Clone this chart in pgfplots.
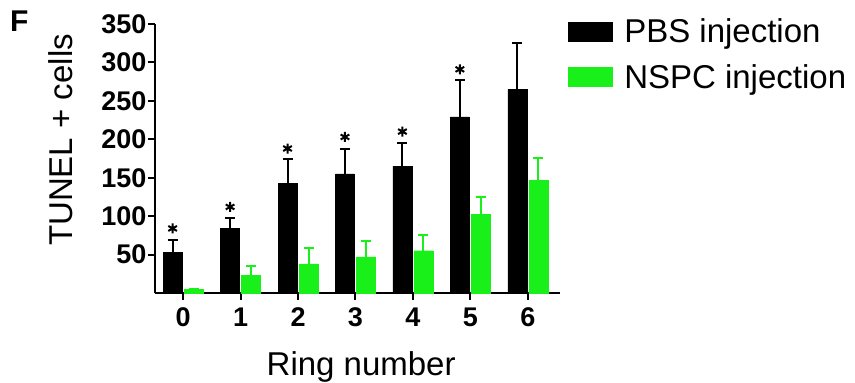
\documentclass[border=0pt]{standalone}
\usepackage{fontspec}
\setmainfont{Liberation Sans}
\usepackage{pgfplots}
\pgfplotsset{compat=1.18}
\definecolor{nspc}{RGB}{25,240,25}
\begin{document}
\begin{tikzpicture}
\path[use as bounding box] (0,0) rectangle (855pt,383pt);
\begin{axis}[
  at={(155pt,90pt)}, anchor=south west,
  scale only axis, width=405pt, height=269pt,
  xmin=-0.49, xmax=6.56, ymin=0, ymax=350,
  axis lines*=left,
  axis line style={line width=2.5pt},
  tick align=outside,
  major tick length=7pt,
  tick style={line width=2pt, black},
  xtick={0,1,2,3,4,5,6},
  ytick={50,100,150,200,250,300,350},
  /pgf/number format/assume math mode=true,
  ticklabel style={font=\fontsize{27}{27}\selectfont\bfseries},
  yticklabel style={xshift=2pt},
  xticklabel style={yshift=-4pt},
  xlabel={Ring number},
  ylabel={TUNEL + cells},
  label style={font=\fontsize{33}{33}\selectfont},
  xlabel style={at={(axis description cs:0.509,-0.275)}, anchor=center},
  ylabel style={at={(axis description cs:-0.232,0.569)}, anchor=center},
  legend style={at={(axis description cs:1.012,1.035)}, anchor=north west,
    draw=none, fill=none, font=\fontsize{33}{33}\selectfont,
    row sep=16pt, legend cell align=left},
  legend image code/.code={\fill[#1] (0pt,-9.5pt) rectangle (44pt,9.5pt); \path[draw=none,fill=none] (0pt,0pt) rectangle (54pt,0.1pt);},
  clip=false,
]
\addplot[ybar, bar width=19pt, bar shift=0pt, fill=black, draw=black,
  error bars/.cd, y dir=plus, y explicit, error mark=|,
  error bar style={line width=2pt, black},
  error mark options={line width=2pt, mark size=5pt, black}]
  coordinates {
  (-0.183,53) +- (0,16)
  (0.817,84.5) +- (0,12.5)
  (1.817,143) +- (0,31)
  (2.817,155) +- (0,32.5)
  (3.817,165) +- (0,30)
  (4.817,229) +- (0,48)
  (5.817,265) +- (0,60)
  };
\addlegendentry{PBS injection}
\addplot[ybar, bar width=19pt, bar shift=0pt, fill=nspc, draw=nspc,
  error bars/.cd, y dir=plus, y explicit, error mark=|,
  error bar style={line width=2pt, nspc},
  error mark options={line width=2pt, mark size=5pt, nspc}]
  coordinates {
  (0.183,5) +- (0,0)
  (1.183,23) +- (0,12)
  (2.183,38) +- (0,20)
  (3.183,47) +- (0,21)
  (4.183,55) +- (0,21)
  (5.183,102) +- (0,23)
  (6.183,147) +- (0,29)
  };
\addlegendentry{NSPC injection}
\addplot[only marks, mark=asterisk, mark size=5pt, line width=2pt, black, forget plot]
  coordinates {
  (-0.183,84) (0.817,112) (1.817,188) (2.817,203) (3.817,210) (4.817,291)
  };
\node[font=\fontsize{30}{30}\selectfont\bfseries, anchor=center] at (axis description cs:-0.335,1.011) {F};
\end{axis}
\end{tikzpicture}
\end{document}
